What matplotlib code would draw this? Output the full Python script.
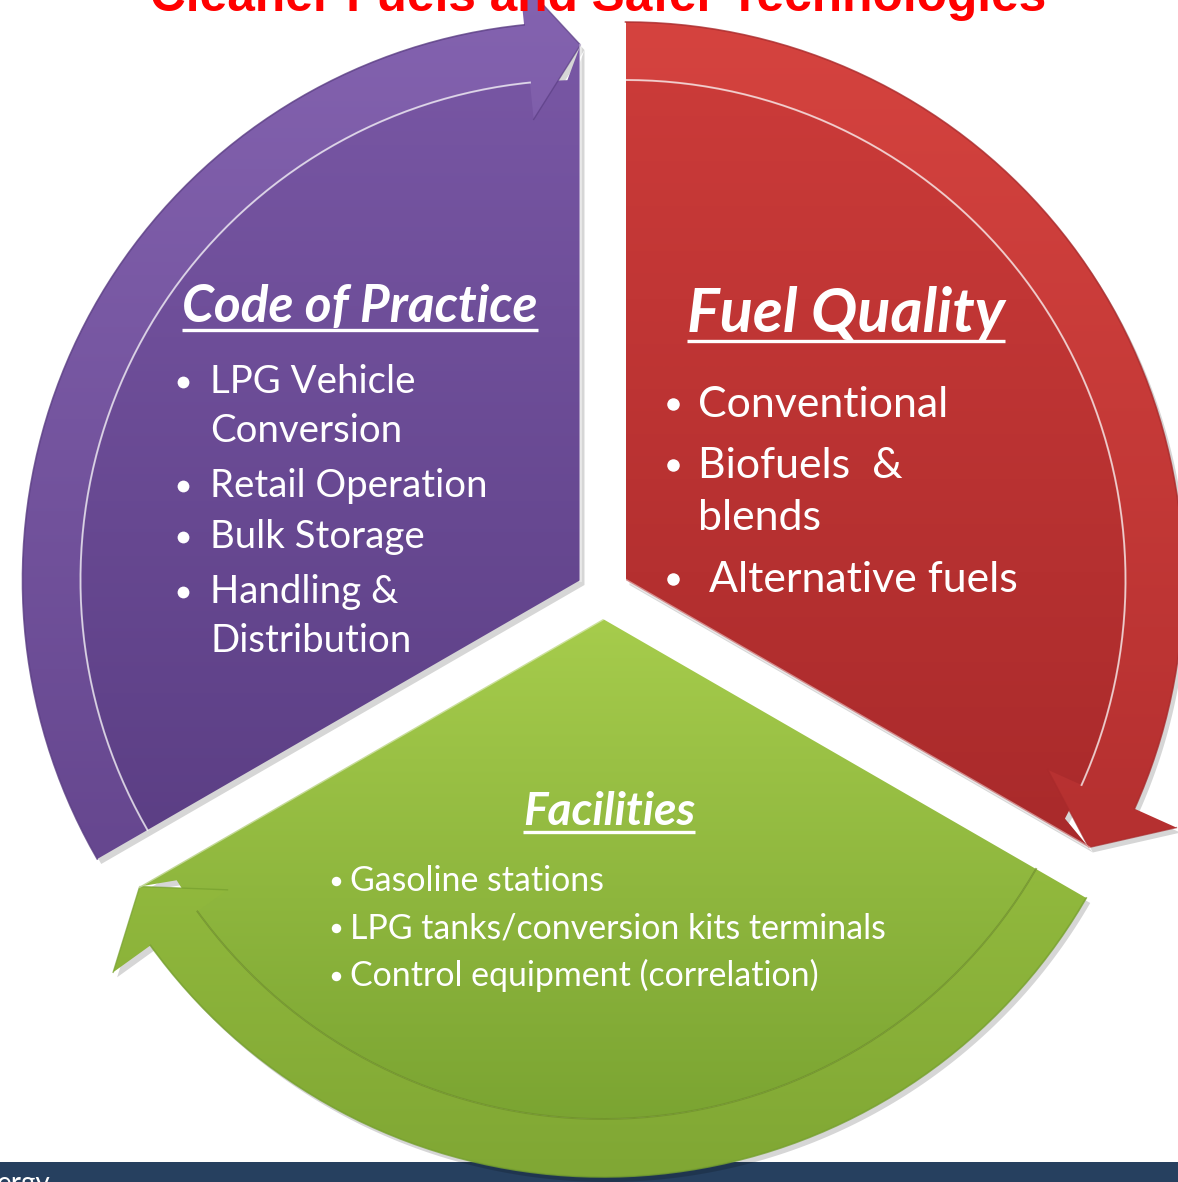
import numpy as np
import matplotlib
matplotlib.use("Agg")
import matplotlib.pyplot as plt
from matplotlib.path import Path
from matplotlib.patches import PathPatch, Rectangle
from matplotlib.colors import LinearSegmentedColormap

W, H = 1178, 1182
FONT = ["Lato", "DejaVu Sans"]

# text content
title = "Cleaner Fuels and Safer Technologies"
headings = ["Code of Practice", "Fuel Quality", "Facilities"]
cop_lines = ["LPG Vehicle", "Conversion", "Retail Operation", "Bulk Storage", "Handling &", "Distribution"]
cop_bullets = [True, False, True, True, True, False]
fuel_lines = ["Conventional", "Biofuels  &", "blends", " Alternative fuels"]
fuel_bullets = [True, True, False, True]
fac_lines = ["Gasoline stations", "LPG tanks/conversion kits terminals", "Control equipment (correlation)"]
fac_bullets = [True, True, True]

# segments: tail angle (deg), each arrow runs 120 deg clockwise
seg_tail = [210, 90, 330]
seg_mid = [150, 30, 270]
body_top = ["#7b59a7", "#cd3c3a", "#a6cc4c"]
body_bot = ["#5b3e84", "#a92a2b", "#76a02f"]
band_top = ["#8463b0", "#d5433f", "#a0c845"]
band_bot = ["#66478f", "#b53030", "#80a734"]
edge_hi = ["white", "white", "#6e8f2a"]

O = (603, 593)
EXPLODE = 26
R_OUT, R_IN = 558, 500
R_TIP, R_BARB_IN, R_BARB_OUT = 535, 463, 604
HEAD = 5.8


def pt(c, r, a):
    t = np.radians(a)
    return (c[0] + r * np.cos(t), c[1] - r * np.sin(t))


def arc(c, r, a0, a1, n=150):
    return [pt(c, r, a) for a in np.linspace(a0, a1, n)]


fig = plt.figure(figsize=(W / 100, H / 100), dpi=100)
ax = fig.add_axes([0, 0, 1, 1])
ax.set_xlim(0, W)
ax.set_ylim(H, 0)
ax.axis("off")
renderer = fig.canvas.get_renderer()

# bottom banner
ax.add_patch(Rectangle((0, 1162), W, 30, fc="#26405f", ec="none", zorder=0))
ax.text(-3, 1171, "ergy", color="white", fontsize=20, family=FONT, va="top", zorder=0.5)

grad = np.linspace(0, 1, 256)[:, None]

for i in range(3):
    T = seg_tail[i]
    A = T - 120
    B = A + HEAD
    c = pt(O, EXPLODE, seg_mid[i])
    body = [c, pt(c, R_TIP, A)] + arc(c, R_IN, A + 1.5, T) + [c]
    band = (arc(c, R_OUT, T, B)
            + [pt(c, R_BARB_OUT, B), pt(c, R_TIP, A), pt(c, R_BARB_IN, B)]
            + arc(c, R_IN, B, T) + [pt(c, R_OUT, T)])
    allpts = np.array(body + band)
    x0, y0 = allpts.min(0)
    x1, y1 = allpts.max(0)

    for poly, top, bot in ((body, body_top[i], body_bot[i]), (band, band_top[i], band_bot[i])):
        sh = PathPatch(Path(np.array(poly) + [4, 5]), fc="black", ec="none", alpha=0.16, zorder=1)
        ax.add_patch(sh)
        p = PathPatch(Path(poly), fc="none", ec="none", zorder=2)
        ax.add_patch(p)
        cmap = LinearSegmentedColormap.from_list("g%d" % i, [top, bot])
        im = ax.imshow(grad, cmap=cmap, extent=(x0, x1, y1, y0), aspect="auto",
                       interpolation="bilinear", zorder=2)
        im.set_clip_path(p)

    # bevel-ish edges
    o = np.array(arc(c, R_OUT, T, B))
    ax.plot(o[:, 0], o[:, 1], color=body_bot[i], lw=1.2, alpha=0.8, zorder=3)
    inner = np.array(arc(c, R_IN, T, B))
    ax.plot(inner[:, 0], inner[:, 1], color=edge_hi[i], lw=1.4, alpha=0.7, zorder=3)
    head = np.array([pt(c, R_BARB_OUT, B), pt(c, R_TIP, A), pt(c, R_BARB_IN, B)])
    ax.plot(head[:, 0], head[:, 1], color=body_bot[i], lw=1.0, alpha=0.7, zorder=3)
    side = np.array([c, pt(c, R_TIP, A)])
    ax.plot(side[:, 0], side[:, 1], color="white", lw=2.0, alpha=0.45, zorder=3)

ax.set_xlim(0, W)
ax.set_ylim(H, 0)


def fit(s, width, **kw):
    t = ax.text(0, 0, s, fontsize=20, **kw)
    w = t.get_window_extent(renderer).width
    t.remove()
    return 20 * width / w


def heading(s, x, y, width, uy):
    size = fit(s, width, family=FONT, weight="bold", style="italic")
    t = ax.text(x, y, s, fontsize=size, family=FONT, weight="bold", style="italic",
                color="white", va="baseline", ha="left", zorder=5)
    bb = t.get_window_extent(renderer)
    xa = ax.transData.inverted().transform([[bb.x0, 0], [bb.x1, 0]])[:, 0]
    ax.plot([xa[0], xa[1]], [uy, uy], color="white", lw=2.4, zorder=5, solid_capstyle="butt")


def bullets(lines, flags, bx, tx, ys, size, dot, lift):
    for s, f, y in zip(lines, flags, ys):
        if f:
            ax.plot(bx, y - lift, "o", ms=dot, color="white", mec="none", zorder=5)
        ax.text(tx, y, s, fontsize=size, family=FONT, color="white",
                va="baseline", ha="left", zorder=5)


# title, mostly cut off at the top
tsize = fit(title, 895, family="Liberation Sans", weight="bold")
ax.text(150, 11, title, fontsize=tsize, family="Liberation Sans", weight="bold",
        color="#ff0000", va="baseline", ha="left", zorder=5)

heading(headings[0], 182, 322, 355, 330)
heading(headings[1], 687, 332, 318, 341)
heading(headings[2], 523, 825, 172, 832)

s1 = fit(cop_lines[2], 278, family=FONT)
bullets(cop_lines, cop_bullets, 183, 210, [393, 442, 497, 548, 603, 652], s1, 8.5, 11)
s2 = fit(fuel_lines[0], 252, family=FONT)
bullets(fuel_lines, fuel_bullets, 673, 698, [417, 478, 530, 592], s2, 9.0, 13)
s3 = fit(fac_lines[1], 537, family=FONT)
bullets(fac_lines, fac_bullets, 336, 350, [891, 938, 986], s3, 6.8, 10)

fig.savefig("out.png", dpi=100)
